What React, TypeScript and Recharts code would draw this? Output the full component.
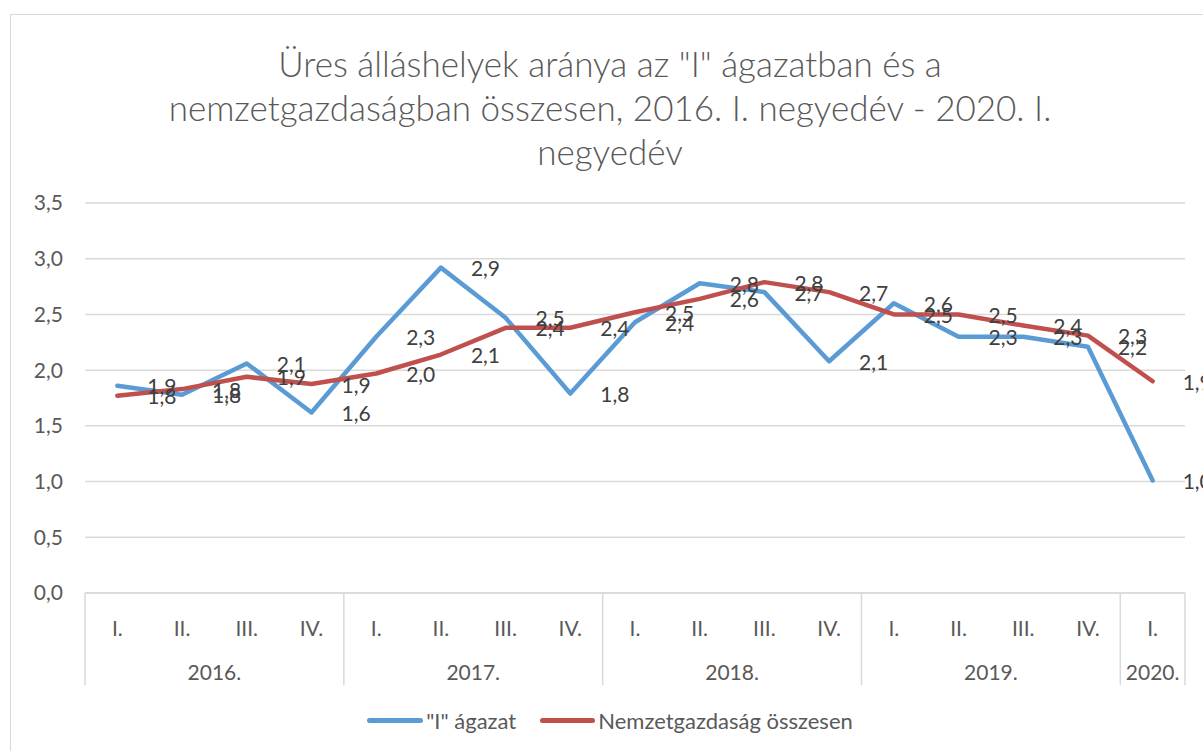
import React from 'react';
import { LineChart, Line, XAxis, YAxis, CartesianGrid, LabelList } from 'recharts';

const quarterLabels = ['I.', 'II.', 'III.', 'IV.', 'I.', 'II.', 'III.', 'IV.', 'I.', 'II.', 'III.', 'IV.', 'I.', 'II.', 'III.', 'IV.', 'I.'];
const yearLabels = ['2016.', '2016.', '2016.', '2016.', '2017.', '2017.', '2017.', '2017.', '2018.', '2018.', '2018.', '2018.', '2019.', '2019.', '2019.', '2019.', '2020.'];
const sectorI = [1.86, 1.78, 2.06, 1.62, 2.3, 2.92, 2.47, 1.79, 2.43, 2.78, 2.7, 2.08, 2.6, 2.3, 2.3, 2.21, 1.01];
const national = [1.77, 1.83, 1.94, 1.875, 1.97, 2.14, 2.38, 2.38, 2.52, 2.64, 2.79, 2.7, 2.5, 2.5, 2.4, 2.31, 1.9];
const yTicks = [0, 0.5, 1, 1.5, 2, 2.5, 3, 3.5];

const seriesNames = ['"I" ágazat', 'Nemzetgazdaság összesen'];
const titleLines = ['Üres álláshelyek aránya az "I" ágazatban és a', 'nemzetgazdaságban összesen, 2016. I. negyedév - 2020. I.', 'negyedév'];

const BLUE = '#5B9BD5';
const RED = '#C0504D';
const GRID = '#d9d9d9';
const TEXT = '#595959';
const FONT = "Lato, 'Open Sans', sans-serif";
const SMALL = 21;

const data = quarterLabels.map((q, i) => ({
  key: `${yearLabels[i]} ${q}`,
  quarter: q,
  year: yearLabels[i],
  sectorI: sectorI[i],
  national: national[i],
}));

const fmt = (v: number) => v.toFixed(1).replace('.', ',');

const CHART_W = 1220;
const CHART_H = 751;
const PLOT_LEFT = 85;
const PLOT_RIGHT = 1185;
const PLOT_TOP = 203;
const PLOT_BOTTOM = 593;
const Y_AXIS_W = 60;
const X_AXIS_H = 100;

function QuarterTick(props: any) {
  const { x, y, index, payload } = props;
  const half = payload && typeof payload.offset === 'number' && payload.offset > 0 ? payload.offset : (PLOT_RIGHT - PLOT_LEFT) / data.length / 2;
  const d = data[index];
  if (!d) return null;
  const isFirst = index === 0 || data[index - 1].year !== d.year;
  const isLast = index === data.length - 1;
  const count = data.filter((e) => e.year === d.year).length;
  return (
    <g>
      <text x={x} y={y + 34} textAnchor="middle" dominantBaseline="central" fill={TEXT} fontSize={SMALL} fontFamily={FONT}>
        {d.quarter}
      </text>
      {isFirst && (
        <>
          <line x1={x - half} x2={x - half} y1={y} y2={y + 92} stroke={GRID} strokeWidth={1.5} />
          <text x={x + (count - 1) * half} y={y + 78} textAnchor="middle" dominantBaseline="central" fill={TEXT} fontSize={SMALL} fontFamily={FONT}>
            {d.year}
          </text>
        </>
      )}
      {isLast && <line x1={x + half} x2={x + half} y1={y} y2={y + 92} stroke={GRID} strokeWidth={1.5} />}
    </g>
  );
}

const makeLabel = (props: any) => {
  const { x, y, value } = props;
  if (x == null || y == null || value == null) return null;
  return (
    <text x={x + 30} y={y} textAnchor="start" dominantBaseline="central" fill="#404040" fontSize={SMALL} fontFamily={FONT}>
      {fmt(Number(value))}
    </text>
  );
};

export default function App() {
  return (
    <div style={{ position: 'fixed', left: 0, top: 0, width: 1203, height: 751, overflow: 'hidden', background: '#fff' }}>
      <div style={{ position: 'absolute', left: 10, top: 14, width: 1220, height: 800, border: `1px solid ${GRID}`, boxSizing: 'border-box' }} />
      <div style={{ position: 'absolute', left: 0, top: 0 }}>
        <LineChart
          width={CHART_W}
          height={CHART_H}
          data={data}
          margin={{ top: PLOT_TOP, right: CHART_W - PLOT_RIGHT, left: PLOT_LEFT - Y_AXIS_W, bottom: CHART_H - PLOT_BOTTOM - X_AXIS_H }}
        >
          <CartesianGrid vertical={false} stroke={GRID} strokeWidth={1.5} />
          <XAxis
            dataKey="key"
            scale="band"
            interval={0}
            height={X_AXIS_H}
            tickSize={0}
            tickMargin={0}
            tickLine={false}
            axisLine={{ stroke: GRID, strokeWidth: 1.5 }}
            tick={<QuarterTick />}
          />
          <YAxis
            domain={[0, 3.5]}
            ticks={yTicks}
            width={Y_AXIS_W}
            axisLine={false}
            tickLine={false}
            tickSize={0}
            tickMargin={22}
            tickFormatter={fmt}
            tick={{ fill: TEXT, fontSize: SMALL, fontFamily: FONT }}
          />
          <Line
            type="linear"
            dataKey="sectorI"
            name={seriesNames[0]}
            stroke={BLUE}
            strokeWidth={4.5}
            strokeLinecap="round"
            strokeLinejoin="round"
            dot={false}
            isAnimationActive={false}
          >
            <LabelList dataKey="sectorI" content={makeLabel} />
          </Line>
          <Line
            type="linear"
            dataKey="national"
            name={seriesNames[1]}
            stroke={RED}
            strokeWidth={4.5}
            strokeLinecap="round"
            strokeLinejoin="round"
            dot={false}
            isAnimationActive={false}
          >
            <LabelList dataKey="national" content={makeLabel} />
          </Line>
        </LineChart>
      </div>
      <div
        style={{
          position: 'absolute',
          left: 0,
          top: 41,
          width: CHART_W,
          textAlign: 'center',
          fontFamily: FONT,
          fontWeight: 300,
          fontSize: 35,
          lineHeight: '44px',
          color: TEXT,
          whiteSpace: 'nowrap',
        }}
      >
        {titleLines.map((t, i) => (
          <div key={i}>{t}</div>
        ))}
      </div>
      <div
        style={{
          position: 'absolute',
          left: 0,
          top: 706,
          width: CHART_W,
          display: 'flex',
          justifyContent: 'center',
          alignItems: 'center',
          fontFamily: FONT,
          fontSize: 22,
          color: TEXT,
          height: 28,
        }}
      >
        <span style={{ display: 'inline-block', width: 56, height: 5, borderRadius: 3, background: BLUE, marginRight: 3 }} />
        <span>{seriesNames[0]}</span>
        <span style={{ display: 'inline-block', width: 55, height: 5, borderRadius: 3, background: RED, marginLeft: 24, marginRight: 3 }} />
        <span>{seriesNames[1]}</span>
      </div>
    </div>
  );
}
